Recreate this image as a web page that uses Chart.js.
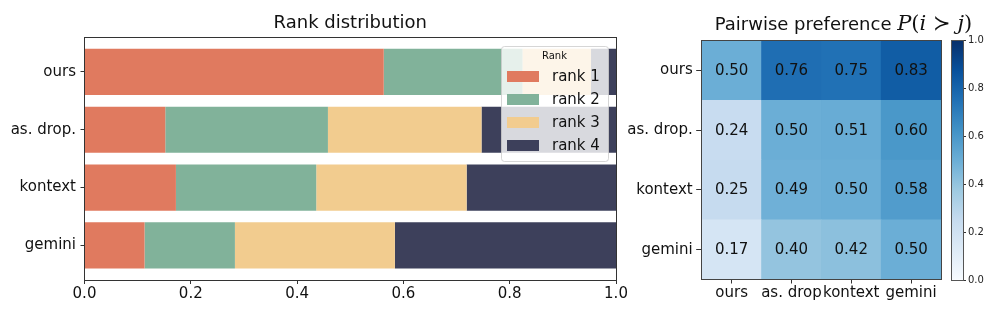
<!DOCTYPE html>
<html>
<head>
<meta charset="utf-8">
<script src="https://cdn.jsdelivr.net/npm/chart.js@4.4.1/dist/chart.umd.min.js"></script>
<style>
  html, body { margin: 0; padding: 0; background: #fff; }
  #wrap { position: relative; width: 996px; height: 310px; }
  canvas { position: absolute; left: 0; top: 0; }
</style>
</head>
<body>
<div id="wrap">
  <canvas id="ranks" width="996" height="310"></canvas>
  <canvas id="prefs" width="996" height="310"></canvas>
  <canvas id="cbar" width="996" height="310"></canvas>
</div>
<script>
// left panel: share of each rank per method
const methods = ["ours", "as. drop.", "kontext", "gemini"]
const rankNames = ["rank 1", "rank 2", "rank 3", "rank 4"]
const rank1 = [0.563, 0.152, 0.172, 0.113]
const rank2 = [0.261, 0.306, 0.264, 0.170]
const rank3 = [0.129, 0.289, 0.283, 0.301]
const rank4 = [0.047, 0.253, 0.281, 0.416]
const rankColors = ["#e07a5f", "#81b29a", "#f2cc8f", "#3d405b"]

// right panel: P(row beats column)
const rowLabels = ["ours", "as. drop.", "kontext", "gemini"]
const colLabels = ["ours", "as. drop", "kontext", "gemini"]
const prefOurs = [0.50, 0.76, 0.75, 0.83]
const prefAsDrop = [0.24, 0.50, 0.51, 0.60]
const prefKontext = [0.25, 0.49, 0.50, 0.58]
const prefGemini = [0.17, 0.40, 0.42, 0.50]
const cbarTicks = [0, 0.2, 0.4, 0.6, 0.8, 1.0]

const bluesStops = ["#f7fbff", "#deebf7", "#c6dbef", "#9ecae1", "#6baed6", "#4292c6", "#2171b5", "#08519c", "#08306b"]

Chart.defaults.font.family = "'DejaVu Sans', sans-serif"
Chart.defaults.color = "#111"
Chart.defaults.animation = false
Chart.defaults.plugins.tooltip.enabled = false
Chart.defaults.plugins.legend.display = false

function hexToRgb(h) {
    return [1, 3, 5].map(i => parseInt(h.slice(i, i + 2), 16))
}

function blues(v) {
    const t = Math.min(Math.max(v, 0), 1) * 8
    const i = Math.min(Math.floor(t), 7)
    const f = t - i
    const a = hexToRgb(bluesStops[i])
    const b = hexToRgb(bluesStops[i + 1])
    const c = a.map((x, k) => Math.round(x + (b[k] - x) * f))
    return `rgb(${c[0]},${c[1]},${c[2]})`
}

const frame = {
    id: "frame",
    afterDraw(chart, args, opts) {
        const a = chart.chartArea
        const c = chart.ctx
        c.save()
        c.strokeStyle = opts.color || "#333"
        c.lineWidth = 1
        const l = Math.floor(a.left) + 0.5
        const t = Math.floor(a.top) + 0.5
        const r = Math.floor(a.right) + 0.5
        const b = Math.floor(a.bottom) + 0.5
        c.strokeRect(l, t, r - l, b - t)
        c.restore()
    }
}

const rankLegend = {
    id: "rankLegend",
    afterDatasetsDraw(chart) {
        const c = chart.ctx
        c.save()
        c.beginPath()
        c.roundRect(501.5, 46.5, 107, 115, 3)
        c.fillStyle = "rgba(255,255,255,0.8)"
        c.fill()
        c.strokeStyle = "rgba(204,204,204,0.8)"
        c.lineWidth = 1
        c.stroke()
        c.fillStyle = "#111"
        c.font = "10px 'DejaVu Sans'"
        c.textAlign = "center"
        c.textBaseline = "middle"
        c.fillText("Rank", 554.5, 56.5)
        chart.data.datasets.forEach((ds, i) => {
            const cy = 76.5 + 23 * i
            c.fillStyle = ds.backgroundColor
            c.fillRect(507, cy - 5.5, 32, 11)
            c.fillStyle = "#111"
            c.font = "15px 'DejaVu Sans'"
            c.textAlign = "left"
            c.fillText(ds.label, 552, cy + 0.5)
        })
        c.restore()
    }
}

const rankData = [rank1, rank2, rank3, rank4]

new Chart(document.querySelector("#ranks"), {
    type: "bar",
    data: {
        datasets: rankData.map((vals, k) => ({
            label: rankNames[k],
            data: vals.map((v, i) => ({ x: v, y: i })),
            backgroundColor: rankColors[k],
            borderWidth: 0,
            stack: "r",
            barPercentage: 0.8,
            categoryPercentage: 1
        }))
    },
    options: {
        responsive: false,
        indexAxis: "y",
        layout: { padding: { left: 0, right: 380, top: 0, bottom: 0 } },
        plugins: {
            title: {
                display: true,
                text: "Rank distribution",
                fullSize: false,
                color: "#111",
                font: { size: 18, weight: "normal", lineHeight: 1.2 },
                padding: { top: 12.5, bottom: 3.2 }
            },
            frame: { color: "#333" }
        },
        scales: {
            x: {
                type: "linear",
                min: 0,
                max: 1,
                stacked: true,
                border: { display: false },
                grid: { drawOnChartArea: false, tickLength: 4, color: "#333" },
                ticks: { stepSize: 0.2, callback: v => v.toFixed(1), font: { size: 15 }, color: "#111", padding: 1, maxRotation: 0 },
                afterFit: s => { s.height = 30 }
            },
            y: {
                type: "linear",
                min: -0.6,
                max: 3.6,
                reverse: true,
                offset: false,
                border: { display: false },
                grid: { drawOnChartArea: false, tickLength: 4, color: "#333", offset: false },
                afterBuildTicks: s => { s.ticks = methods.map((m, i) => ({ value: i })) },
                ticks: { callback: v => methods[v], font: { size: 15 }, color: "#111", padding: 4.5, autoSkip: false },
                afterFit: s => { s.width = 84.5 }
            }
        }
    },
    plugins: [frame, rankLegend]
})

// heatmap: one stacked bar segment per cell, coloured by its value
const cellText = {
    id: "cellText",
    afterDatasetsDraw(chart) {
        const c = chart.ctx
        c.save()
        c.fillStyle = "#111"
        c.font = "15px 'DejaVu Sans'"
        c.textAlign = "center"
        c.textBaseline = "middle"
        chart.data.datasets.forEach((ds, di) => {
            chart.getDatasetMeta(di).data.forEach((el, j) => {
                c.fillText(ds.values[j].toFixed(2), el.x, (el.y + el.base) / 2 + 0.5)
            })
        })
        c.restore()
    }
}

const prefTitle = {
    id: "prefTitle",
    afterDraw(chart) {
        const c = chart.ctx
        c.save()
        const math = "italic 21px 'DejaVu Serif'"
        const up = "21px 'DejaVu Serif'"
        const parts = [
            ["Pairwise preference ", "18px 'DejaVu Sans'"],
            ["P", math],
            ["(", up],
            ["i", math],
            [" \u227B ", up],
            ["j", math],
            [")", up]
        ]
        let total = 0
        const widths = parts.map(p => {
            c.font = p[1]
            const w = c.measureText(p[0]).width
            total += w
            return w
        })
        let x = 843.5 - total / 2
        c.fillStyle = "#111"
        c.textBaseline = "alphabetic"
        c.textAlign = "left"
        parts.forEach((p, i) => {
            c.font = p[1]
            c.fillText(p[0], x, 29.5)
            x += widths[i]
        })
        c.restore()
    }
}

const prefRows = [prefOurs, prefAsDrop, prefKontext, prefGemini]

new Chart(document.querySelector("#prefs"), {
    type: "bar",
    data: {
        labels: colLabels,
        datasets: prefRows.slice().reverse().map(vals => ({
            data: vals.map(() => 1),
            values: vals,
            backgroundColor: vals.map(blues),
            borderWidth: 0,
            stack: "h",
            barPercentage: 1,
            categoryPercentage: 1
        }))
    },
    options: {
        responsive: false,
        layout: { padding: { left: 600, right: 55, top: 40.7, bottom: 0 } },
        plugins: { frame: { color: "#444" } },
        scales: {
            x: {
                type: "category",
                offset: true,
                border: { display: false },
                grid: { offset: false, drawOnChartArea: false, tickLength: 4, color: "#333" },
                ticks: { font: { size: 15 }, color: "#111", maxRotation: 0, minRotation: 0, autoSkip: false, padding: 1 },
                afterFit: s => { s.height = 30.5 }
            },
            y: {
                type: "linear",
                min: 0,
                max: 4,
                stacked: true,
                offset: false,
                border: { display: false },
                grid: { drawOnChartArea: false, tickLength: 5.5, color: "#333" },
                afterBuildTicks: s => { s.ticks = rowLabels.map((r, i) => ({ value: i + 0.5 })) },
                ticks: { callback: v => rowLabels[3 - Math.floor(v)], font: { size: 15 }, color: "#111", padding: 3.5, autoSkip: false },
                afterFit: s => { s.width = 101.7 }
            }
        }
    },
    plugins: [frame, cellText, prefTitle]
})

// colorbar
new Chart(document.querySelector("#cbar"), {
    type: "bar",
    data: {
        labels: [""],
        datasets: [{
            data: [1],
            borderWidth: 0,
            barPercentage: 1,
            categoryPercentage: 1,
            backgroundColor: ctx => {
                const a = ctx.chart.chartArea
                if (!a) return bluesStops[4]
                const g = ctx.chart.ctx.createLinearGradient(0, a.bottom, 0, a.top)
                bluesStops.forEach((col, i) => g.addColorStop(i / 8, col))
                return g
            }
        }]
    },
    options: {
        responsive: false,
        layout: { padding: { left: 951, right: 0, top: 40.7, bottom: 30 } },
        plugins: { frame: { color: "#555" } },
        scales: {
            x: { display: false },
            y: {
                position: "right",
                min: 0,
                max: 1,
                border: { display: false },
                grid: { drawOnChartArea: false, tickLength: 3, color: "#333" },
                afterBuildTicks: s => { s.ticks = cbarTicks.map(v => ({ value: v })) },
                ticks: { callback: v => v.toFixed(1), font: { size: 10 }, color: "#222", padding: 2 },
                afterFit: s => { s.width = 33 }
            }
        }
    },
    plugins: [frame]
})
</script>
</body>
</html>
